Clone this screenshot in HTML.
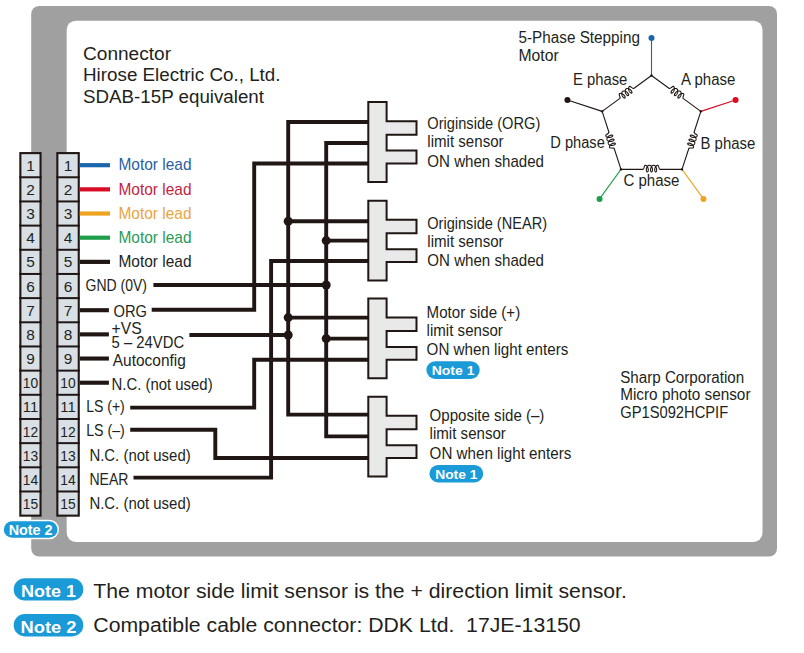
<!DOCTYPE html>
<html><head><meta charset="utf-8"><style>
html,body{margin:0;padding:0;background:#fff;}
body{width:804px;height:653px;overflow:hidden;}
svg{display:block;font-family:"Liberation Sans",sans-serif;}
</style></head><body>
<svg width="804" height="653" viewBox="0 0 804 653">
<rect width="804" height="653" fill="#ffffff"/>
<rect x="31.2" y="6" width="745.8" height="550.5" rx="8" fill="#a0a0a0"/>
<rect x="66.7" y="20.7" width="695.8" height="521.3" rx="9" fill="#ffffff"/>
<text x="83" y="59.8" font-size="17.5" fill="#231f20" textLength="88" lengthAdjust="spacingAndGlyphs">Connector</text>
<text x="83" y="81.0" font-size="17.5" fill="#231f20" textLength="197.5" lengthAdjust="spacingAndGlyphs">Hirose Electric Co., Ltd.</text>
<text x="83" y="102.5" font-size="17.5" fill="#231f20" textLength="181" lengthAdjust="spacingAndGlyphs">SDAB-15P equivalent</text>
<rect x="20.35" y="153.1" width="20.2" height="362.55" fill="#d8dfe5" stroke="#201614" stroke-width="2.1"/>
<line x1="19.3" y1="177.26999999999998" x2="41.6" y2="177.26999999999998" stroke="#201614" stroke-width="2.0"/>
<line x1="19.3" y1="201.44" x2="41.6" y2="201.44" stroke="#201614" stroke-width="2.0"/>
<line x1="19.3" y1="225.61" x2="41.6" y2="225.61" stroke="#201614" stroke-width="2.0"/>
<line x1="19.3" y1="249.78" x2="41.6" y2="249.78" stroke="#201614" stroke-width="2.0"/>
<line x1="19.3" y1="273.95" x2="41.6" y2="273.95" stroke="#201614" stroke-width="2.0"/>
<line x1="19.3" y1="298.12" x2="41.6" y2="298.12" stroke="#201614" stroke-width="2.0"/>
<line x1="19.3" y1="322.28999999999996" x2="41.6" y2="322.28999999999996" stroke="#201614" stroke-width="2.0"/>
<line x1="19.3" y1="346.46000000000004" x2="41.6" y2="346.46000000000004" stroke="#201614" stroke-width="2.0"/>
<line x1="19.3" y1="370.63" x2="41.6" y2="370.63" stroke="#201614" stroke-width="2.0"/>
<line x1="19.3" y1="394.8" x2="41.6" y2="394.8" stroke="#201614" stroke-width="2.0"/>
<line x1="19.3" y1="418.97" x2="41.6" y2="418.97" stroke="#201614" stroke-width="2.0"/>
<line x1="19.3" y1="443.14" x2="41.6" y2="443.14" stroke="#201614" stroke-width="2.0"/>
<line x1="19.3" y1="467.31000000000006" x2="41.6" y2="467.31000000000006" stroke="#201614" stroke-width="2.0"/>
<line x1="19.3" y1="491.48" x2="41.6" y2="491.48" stroke="#201614" stroke-width="2.0"/>
<text x="30.450000000000003" y="170.685" font-size="15.4" fill="#231f20" text-anchor="middle">1</text>
<text x="30.450000000000003" y="194.855" font-size="15.4" fill="#231f20" text-anchor="middle">2</text>
<text x="30.450000000000003" y="219.025" font-size="15.4" fill="#231f20" text-anchor="middle">3</text>
<text x="30.450000000000003" y="243.195" font-size="15.4" fill="#231f20" text-anchor="middle">4</text>
<text x="30.450000000000003" y="267.365" font-size="15.4" fill="#231f20" text-anchor="middle">5</text>
<text x="30.450000000000003" y="291.53499999999997" font-size="15.4" fill="#231f20" text-anchor="middle">6</text>
<text x="30.450000000000003" y="315.70500000000004" font-size="15.4" fill="#231f20" text-anchor="middle">7</text>
<text x="30.450000000000003" y="339.875" font-size="15.4" fill="#231f20" text-anchor="middle">8</text>
<text x="30.450000000000003" y="364.045" font-size="15.4" fill="#231f20" text-anchor="middle">9</text>
<text x="30.450000000000003" y="388.21500000000003" font-size="15.4" fill="#231f20" text-anchor="middle" textLength="15.4" lengthAdjust="spacingAndGlyphs">10</text>
<text x="30.450000000000003" y="412.385" font-size="15.4" fill="#231f20" text-anchor="middle" textLength="15.4" lengthAdjust="spacingAndGlyphs">11</text>
<text x="30.450000000000003" y="436.55500000000006" font-size="15.4" fill="#231f20" text-anchor="middle" textLength="15.4" lengthAdjust="spacingAndGlyphs">12</text>
<text x="30.450000000000003" y="460.725" font-size="15.4" fill="#231f20" text-anchor="middle" textLength="15.4" lengthAdjust="spacingAndGlyphs">13</text>
<text x="30.450000000000003" y="484.895" font-size="15.4" fill="#231f20" text-anchor="middle" textLength="15.4" lengthAdjust="spacingAndGlyphs">14</text>
<text x="30.450000000000003" y="509.06500000000005" font-size="15.4" fill="#231f20" text-anchor="middle" textLength="15.4" lengthAdjust="spacingAndGlyphs">15</text>
<rect x="57.349999999999994" y="153.1" width="21.4" height="362.55" fill="#d8dfe5" stroke="#201614" stroke-width="2.1"/>
<line x1="56.3" y1="177.26999999999998" x2="79.8" y2="177.26999999999998" stroke="#201614" stroke-width="2.0"/>
<line x1="56.3" y1="201.44" x2="79.8" y2="201.44" stroke="#201614" stroke-width="2.0"/>
<line x1="56.3" y1="225.61" x2="79.8" y2="225.61" stroke="#201614" stroke-width="2.0"/>
<line x1="56.3" y1="249.78" x2="79.8" y2="249.78" stroke="#201614" stroke-width="2.0"/>
<line x1="56.3" y1="273.95" x2="79.8" y2="273.95" stroke="#201614" stroke-width="2.0"/>
<line x1="56.3" y1="298.12" x2="79.8" y2="298.12" stroke="#201614" stroke-width="2.0"/>
<line x1="56.3" y1="322.28999999999996" x2="79.8" y2="322.28999999999996" stroke="#201614" stroke-width="2.0"/>
<line x1="56.3" y1="346.46000000000004" x2="79.8" y2="346.46000000000004" stroke="#201614" stroke-width="2.0"/>
<line x1="56.3" y1="370.63" x2="79.8" y2="370.63" stroke="#201614" stroke-width="2.0"/>
<line x1="56.3" y1="394.8" x2="79.8" y2="394.8" stroke="#201614" stroke-width="2.0"/>
<line x1="56.3" y1="418.97" x2="79.8" y2="418.97" stroke="#201614" stroke-width="2.0"/>
<line x1="56.3" y1="443.14" x2="79.8" y2="443.14" stroke="#201614" stroke-width="2.0"/>
<line x1="56.3" y1="467.31000000000006" x2="79.8" y2="467.31000000000006" stroke="#201614" stroke-width="2.0"/>
<line x1="56.3" y1="491.48" x2="79.8" y2="491.48" stroke="#201614" stroke-width="2.0"/>
<text x="68.05" y="170.685" font-size="15.4" fill="#231f20" text-anchor="middle">1</text>
<text x="68.05" y="194.855" font-size="15.4" fill="#231f20" text-anchor="middle">2</text>
<text x="68.05" y="219.025" font-size="15.4" fill="#231f20" text-anchor="middle">3</text>
<text x="68.05" y="243.195" font-size="15.4" fill="#231f20" text-anchor="middle">4</text>
<text x="68.05" y="267.365" font-size="15.4" fill="#231f20" text-anchor="middle">5</text>
<text x="68.05" y="291.53499999999997" font-size="15.4" fill="#231f20" text-anchor="middle">6</text>
<text x="68.05" y="315.70500000000004" font-size="15.4" fill="#231f20" text-anchor="middle">7</text>
<text x="68.05" y="339.875" font-size="15.4" fill="#231f20" text-anchor="middle">8</text>
<text x="68.05" y="364.045" font-size="15.4" fill="#231f20" text-anchor="middle">9</text>
<text x="68.05" y="388.21500000000003" font-size="15.4" fill="#231f20" text-anchor="middle" textLength="15.4" lengthAdjust="spacingAndGlyphs">10</text>
<text x="68.05" y="412.385" font-size="15.4" fill="#231f20" text-anchor="middle" textLength="15.4" lengthAdjust="spacingAndGlyphs">11</text>
<text x="68.05" y="436.55500000000006" font-size="15.4" fill="#231f20" text-anchor="middle" textLength="15.4" lengthAdjust="spacingAndGlyphs">12</text>
<text x="68.05" y="460.725" font-size="15.4" fill="#231f20" text-anchor="middle" textLength="15.4" lengthAdjust="spacingAndGlyphs">13</text>
<text x="68.05" y="484.895" font-size="15.4" fill="#231f20" text-anchor="middle" textLength="15.4" lengthAdjust="spacingAndGlyphs">14</text>
<text x="68.05" y="509.06500000000005" font-size="15.4" fill="#231f20" text-anchor="middle" textLength="15.4" lengthAdjust="spacingAndGlyphs">15</text>
<line x1="79.8" y1="165.185" x2="110" y2="165.185" stroke="#1a66ac" stroke-width="4.2"/>
<text x="118.5" y="170.485" font-size="15.9" fill="#2b609f" textLength="73" lengthAdjust="spacingAndGlyphs">Motor lead</text>
<line x1="79.8" y1="189.355" x2="110" y2="189.355" stroke="#d90b25" stroke-width="4.2"/>
<text x="118.5" y="194.655" font-size="15.9" fill="#c41f3e" textLength="73" lengthAdjust="spacingAndGlyphs">Motor lead</text>
<line x1="79.8" y1="213.525" x2="110" y2="213.525" stroke="#eea321" stroke-width="4.2"/>
<text x="118.5" y="218.82500000000002" font-size="15.9" fill="#eaa43e" textLength="73" lengthAdjust="spacingAndGlyphs">Motor lead</text>
<line x1="79.8" y1="237.695" x2="110" y2="237.695" stroke="#1f9e4a" stroke-width="4.2"/>
<text x="118.5" y="242.995" font-size="15.9" fill="#2b9a57" textLength="73" lengthAdjust="spacingAndGlyphs">Motor lead</text>
<line x1="79.8" y1="261.865" x2="110" y2="261.865" stroke="#201614" stroke-width="4.2"/>
<text x="118.5" y="267.165" font-size="15.9" fill="#231f20" textLength="73" lengthAdjust="spacingAndGlyphs">Motor lead</text>
<text x="85.5" y="291.335" font-size="15.9" fill="#231f20" textLength="61.5" lengthAdjust="spacingAndGlyphs">GND (0V)</text>
<line x1="79.8" y1="310.20500000000004" x2="108.9" y2="310.20500000000004" stroke="#201614" stroke-width="4.1"/>
<text x="113.5" y="317.20500000000004" font-size="15.9" fill="#231f20" textLength="33.5" lengthAdjust="spacingAndGlyphs">ORG</text>
<line x1="79.8" y1="334.375" x2="108.9" y2="334.375" stroke="#201614" stroke-width="4.1"/>
<text x="111.6" y="333.575" font-size="15.9" fill="#231f20" textLength="30" lengthAdjust="spacingAndGlyphs">+VS</text>
<text x="111.6" y="347.975" font-size="15.9" fill="#231f20" textLength="72.5" lengthAdjust="spacingAndGlyphs">5 – 24VDC</text>
<line x1="79.8" y1="358.545" x2="108.9" y2="358.545" stroke="#201614" stroke-width="4.1"/>
<text x="112.8" y="366.14500000000004" font-size="15.9" fill="#231f20" textLength="73" lengthAdjust="spacingAndGlyphs">Autoconfig</text>
<line x1="79.8" y1="382.71500000000003" x2="108.9" y2="382.71500000000003" stroke="#201614" stroke-width="4.1"/>
<text x="111.6" y="390.31500000000005" font-size="15.9" fill="#231f20" textLength="101" lengthAdjust="spacingAndGlyphs">N.C. (not used)</text>
<text x="86.2" y="412.185" font-size="15.9" fill="#231f20" textLength="38.6" lengthAdjust="spacingAndGlyphs">LS (+)</text>
<text x="86.2" y="436.3550000000001" font-size="15.9" fill="#231f20" textLength="38.6" lengthAdjust="spacingAndGlyphs">LS (–)</text>
<text x="89.4" y="460.52500000000003" font-size="15.9" fill="#231f20" textLength="101.3" lengthAdjust="spacingAndGlyphs">N.C. (not used)</text>
<text x="89.4" y="484.695" font-size="15.9" fill="#231f20" textLength="39" lengthAdjust="spacingAndGlyphs">NEAR</text>
<text x="89.4" y="508.86500000000007" font-size="15.9" fill="#231f20" textLength="101.3" lengthAdjust="spacingAndGlyphs">N.C. (not used)</text>
<polyline points="368.5,122 288.2,122 288.2,414.6 368.5,414.6" fill="none" stroke="#201614" stroke-width="3.9" stroke-linejoin="miter" stroke-linecap="butt"/>
<line x1="288.2" y1="221.2" x2="368.5" y2="221.2" stroke="#201614" stroke-width="3.9"/>
<circle cx="288.2" cy="221.2" r="4.5" fill="#201614"/>
<line x1="288.2" y1="317.6" x2="368.5" y2="317.6" stroke="#201614" stroke-width="3.9"/>
<circle cx="288.2" cy="317.6" r="4.5" fill="#201614"/>
<line x1="189.4" y1="335" x2="288.2" y2="335" stroke="#201614" stroke-width="3.9"/>
<circle cx="288.2" cy="335" r="4.5" fill="#201614"/>
<polyline points="368.5,143 326.2,143 326.2,436.4 368.5,436.4" fill="none" stroke="#201614" stroke-width="3.9" stroke-linejoin="miter" stroke-linecap="butt"/>
<line x1="326.2" y1="240.6" x2="368.5" y2="240.6" stroke="#201614" stroke-width="3.9"/>
<circle cx="326.2" cy="240.6" r="4.5" fill="#201614"/>
<line x1="326.2" y1="338.6" x2="368.5" y2="338.6" stroke="#201614" stroke-width="3.9"/>
<circle cx="326.2" cy="338.6" r="4.5" fill="#201614"/>
<line x1="153.4" y1="285" x2="326.2" y2="285" stroke="#201614" stroke-width="3.9"/>
<circle cx="326.2" cy="285" r="4.5" fill="#201614"/>
<polyline points="368.5,163.5 254.2,163.5 254.2,309.8 151.7,309.8" fill="none" stroke="#201614" stroke-width="3.9" stroke-linejoin="miter" stroke-linecap="butt"/>
<polyline points="368.5,261 271.1,261 271.1,477.6 133.5,477.6" fill="none" stroke="#201614" stroke-width="3.9" stroke-linejoin="miter" stroke-linecap="butt"/>
<polyline points="368.5,359.7 254.2,359.7 254.2,407.6 130.2,407.6" fill="none" stroke="#201614" stroke-width="3.9" stroke-linejoin="miter" stroke-linecap="butt"/>
<polyline points="368.5,458 215.3,458 215.3,429.8 130.2,429.8" fill="none" stroke="#201614" stroke-width="3.9" stroke-linejoin="miter" stroke-linecap="butt"/>
<polygon points="368.3,102.1 386.6,102.1 386.6,121.19999999999999 416.5,121.19999999999999 416.5,134.7 386.6,134.7 386.6,150.6 416.5,150.6 416.5,163.5 386.6,163.5 386.6,182.0 368.3,182.0" fill="#e9e9e9" stroke="#201614" stroke-width="2" transform="translate(0,0)"/>
<polygon points="368.3,200.7 386.6,200.7 386.6,219.79999999999998 416.5,219.79999999999998 416.5,233.29999999999998 386.6,233.29999999999998 386.6,249.2 416.5,249.2 416.5,262.09999999999997 386.6,262.09999999999997 386.6,280.6 368.3,280.6" fill="#e9e9e9" stroke="#201614" stroke-width="2" transform="translate(0,0)"/>
<polygon points="368.3,298.4 386.6,298.4 386.6,317.5 416.5,317.5 416.5,331.0 386.6,331.0 386.6,346.9 416.5,346.9 416.5,359.79999999999995 386.6,359.79999999999995 386.6,378.29999999999995 368.3,378.29999999999995" fill="#e9e9e9" stroke="#201614" stroke-width="2" transform="translate(0,0)"/>
<polygon points="368.3,396.7 386.6,396.7 386.6,415.8 416.5,415.8 416.5,429.3 386.6,429.3 386.6,445.2 416.5,445.2 416.5,458.09999999999997 386.6,458.09999999999997 386.6,476.6 368.3,476.6" fill="#e9e9e9" stroke="#201614" stroke-width="2" transform="translate(0,0)"/>
<text x="427.3" y="129.4" font-size="16.2" fill="#231f20" textLength="113" lengthAdjust="spacingAndGlyphs">Originside (ORG)</text>
<text x="427.3" y="146.5" font-size="16.2" fill="#231f20" textLength="76.3" lengthAdjust="spacingAndGlyphs">limit sensor</text>
<text x="427.3" y="167.3" font-size="16.2" fill="#231f20" textLength="116.7" lengthAdjust="spacingAndGlyphs">ON when shaded</text>
<text x="427.3" y="228.8" font-size="16.2" fill="#231f20" textLength="119.7" lengthAdjust="spacingAndGlyphs">Originside (NEAR)</text>
<text x="427.3" y="246.6" font-size="16.2" fill="#231f20" textLength="76.3" lengthAdjust="spacingAndGlyphs">limit sensor</text>
<text x="427.3" y="266.2" font-size="16.2" fill="#231f20" textLength="116.7" lengthAdjust="spacingAndGlyphs">ON when shaded</text>
<text x="426.6" y="317.8" font-size="16.2" fill="#231f20" textLength="93.6" lengthAdjust="spacingAndGlyphs">Motor side (+)</text>
<text x="426.6" y="335.7" font-size="16.2" fill="#231f20" textLength="76.3" lengthAdjust="spacingAndGlyphs">limit sensor</text>
<text x="426.6" y="355.3" font-size="16.2" fill="#231f20" textLength="141.7" lengthAdjust="spacingAndGlyphs">ON when light enters</text>
<text x="429.6" y="421.3" font-size="16.2" fill="#231f20" textLength="114.8" lengthAdjust="spacingAndGlyphs">Opposite side (–)</text>
<text x="429.6" y="439.2" font-size="16.2" fill="#231f20" textLength="76.3" lengthAdjust="spacingAndGlyphs">limit sensor</text>
<text x="429.6" y="459.4" font-size="16.2" fill="#231f20" textLength="141.7" lengthAdjust="spacingAndGlyphs">ON when light enters</text>
<rect x="426.4" y="361.2" width="53.30000000000001" height="17.69999999999999" rx="8.849999999999994" fill="#1a9ad7"/>
<text x="453.04999999999995" y="374.7" font-size="13.6" fill="#ffffff" font-weight="bold" text-anchor="middle" textLength="42.8" lengthAdjust="spacingAndGlyphs">Note 1</text>
<rect x="429.4" y="465.0" width="53.80000000000001" height="17.399999999999977" rx="8.699999999999989" fill="#1a9ad7"/>
<text x="456.29999999999995" y="478.7" font-size="13.6" fill="#ffffff" font-weight="bold" text-anchor="middle" textLength="42.3" lengthAdjust="spacingAndGlyphs">Note 1</text>
<rect x="2.3" y="519.7" width="56.7" height="19.59999999999991" rx="9.799999999999955" fill="#ffffff"/>
<rect x="3.8" y="521.2" width="53.7" height="16.59999999999991" rx="8.299999999999955" fill="#1a9ad7"/>
<text x="30.65" y="534.6" font-size="14.5" fill="#ffffff" font-weight="bold" text-anchor="middle" textLength="44" lengthAdjust="spacingAndGlyphs">Note 2</text>
<text x="620.2" y="382.7" font-size="16" fill="#231f20" textLength="124" lengthAdjust="spacingAndGlyphs">Sharp Corporation</text>
<text x="620.2" y="400.3" font-size="16" fill="#231f20" textLength="130.3" lengthAdjust="spacingAndGlyphs">Micro photo sensor</text>
<text x="620.2" y="418.0" font-size="16" fill="#231f20" textLength="108" lengthAdjust="spacingAndGlyphs">GP1S092HCPIF</text>
<text x="518.5" y="43.1" font-size="15.6" fill="#231f20" textLength="121.5" lengthAdjust="spacingAndGlyphs">5-Phase Stepping</text>
<text x="518.5" y="60.5" font-size="15.6" fill="#231f20" textLength="40.2" lengthAdjust="spacingAndGlyphs">Motor</text>
<line x1="651.50" y1="75.50" x2="651.50" y2="38.00" stroke="#1a66ac" stroke-width="1.1"/>
<circle cx="651.50" cy="38.00" r="3" fill="#1a66ac"/>
<circle cx="651.50" cy="75.50" r="1.2" fill="#201614"/>
<line x1="700.86" y1="111.36" x2="735.57" y2="100.08" stroke="#d90b25" stroke-width="1.1"/>
<circle cx="735.57" cy="100.08" r="3" fill="#d90b25"/>
<circle cx="700.86" cy="111.36" r="1.2" fill="#201614"/>
<line x1="682.01" y1="169.39" x2="703.46" y2="198.92" stroke="#eea321" stroke-width="1.1"/>
<circle cx="703.46" cy="198.92" r="3" fill="#eea321"/>
<circle cx="682.01" cy="169.39" r="1.2" fill="#201614"/>
<line x1="620.99" y1="169.39" x2="599.54" y2="198.92" stroke="#1f9e4a" stroke-width="1.1"/>
<circle cx="599.54" cy="198.92" r="3" fill="#1f9e4a"/>
<circle cx="620.99" cy="169.39" r="1.2" fill="#201614"/>
<line x1="602.14" y1="111.36" x2="567.43" y2="100.08" stroke="#201614" stroke-width="1.1"/>
<circle cx="567.43" cy="100.08" r="3" fill="#201614"/>
<circle cx="602.14" cy="111.36" r="1.2" fill="#201614"/>
<path d="M0.00,0.00 L22.01,0.00 L22.28,-0.16 L22.56,-0.60 L22.83,-1.27 L23.11,-2.05 L23.38,-2.83 L23.66,-3.50 L23.93,-3.94 L24.21,-4.10 L24.21,-4.10 L24.47,-4.08 L24.74,-4.03 L25.00,-3.94 L25.26,-3.81 L25.51,-3.65 L25.74,-3.46 L25.97,-3.24 L26.18,-2.99 L26.37,-2.72 L26.55,-2.43 L26.71,-2.11 L26.85,-1.79 L26.97,-1.45 L27.08,-1.10 L27.16,-0.75 L27.22,-0.40 L27.25,-0.05 L27.27,0.29 L27.27,0.61 L27.25,0.92 L27.21,1.22 L27.16,1.49 L27.09,1.74 L27.00,1.96 L26.91,2.15 L26.80,2.31 L26.68,2.44 L26.56,2.53 L26.43,2.58 L26.31,2.60 L26.18,2.58 L26.05,2.53 L25.93,2.44 L25.81,2.31 L25.71,2.15 L25.61,1.96 L25.52,1.74 L25.45,1.49 L25.40,1.22 L25.36,0.93 L25.34,0.61 L25.34,0.29 L25.36,-0.05 L25.40,-0.40 L25.46,-0.75 L25.54,-1.10 L25.64,-1.45 L25.76,-1.79 L25.90,-2.11 L26.06,-2.43 L26.24,-2.72 L26.43,-2.99 L26.64,-3.24 L26.87,-3.46 L27.11,-3.65 L27.35,-3.81 L27.61,-3.94 L27.87,-4.03 L28.14,-4.08 L28.41,-4.10 L28.67,-4.08 L28.94,-4.03 L29.20,-3.94 L29.46,-3.81 L29.71,-3.65 L29.94,-3.46 L30.17,-3.24 L30.38,-2.99 L30.57,-2.72 L30.75,-2.42 L30.91,-2.11 L31.05,-1.79 L31.17,-1.45 L31.28,-1.10 L31.36,-0.75 L31.42,-0.40 L31.45,-0.05 L31.47,0.29 L31.47,0.61 L31.45,0.92 L31.41,1.22 L31.36,1.49 L31.29,1.74 L31.20,1.96 L31.11,2.15 L31.00,2.31 L30.88,2.44 L30.76,2.53 L30.63,2.58 L30.51,2.60 L30.38,2.58 L30.25,2.53 L30.13,2.44 L30.01,2.31 L29.91,2.15 L29.81,1.96 L29.72,1.74 L29.65,1.49 L29.60,1.22 L29.56,0.92 L29.54,0.61 L29.54,0.29 L29.56,-0.05 L29.60,-0.40 L29.66,-0.75 L29.74,-1.10 L29.84,-1.45 L29.96,-1.79 L30.10,-2.11 L30.26,-2.42 L30.44,-2.72 L30.63,-2.99 L30.84,-3.24 L31.07,-3.46 L31.31,-3.65 L31.55,-3.81 L31.81,-3.94 L32.07,-4.03 L32.34,-4.08 L32.61,-4.10 L32.87,-4.08 L33.14,-4.03 L33.40,-3.94 L33.66,-3.81 L33.91,-3.65 L34.14,-3.46 L34.37,-3.24 L34.58,-2.99 L34.77,-2.72 L34.95,-2.43 L35.11,-2.11 L35.25,-1.79 L35.37,-1.45 L35.48,-1.10 L35.56,-0.75 L35.62,-0.40 L35.65,-0.05 L35.67,0.29 L35.67,0.61 L35.65,0.93 L35.61,1.22 L35.56,1.49 L35.49,1.74 L35.40,1.96 L35.31,2.15 L35.20,2.31 L35.08,2.44 L34.96,2.53 L34.83,2.58 L34.71,2.60 L34.58,2.58 L34.45,2.53 L34.33,2.44 L34.21,2.31 L34.11,2.15 L34.01,1.96 L33.92,1.74 L33.85,1.49 L33.80,1.22 L33.76,0.93 L33.74,0.61 L33.74,0.29 L33.76,-0.05 L33.80,-0.40 L33.86,-0.75 L33.94,-1.10 L34.04,-1.45 L34.16,-1.79 L34.30,-2.11 L34.46,-2.43 L34.64,-2.72 L34.83,-2.99 L35.04,-3.24 L35.27,-3.46 L35.51,-3.65 L35.75,-3.81 L36.01,-3.94 L36.27,-4.03 L36.54,-4.08 L36.81,-4.10 L37.08,-3.94 L37.36,-3.50 L37.63,-2.83 L37.91,-2.05 L38.18,-1.27 L38.46,-0.60 L38.73,-0.16 L39.01,-0.00 L61.01,0.00" fill="none" stroke="#201614" stroke-width="1.1" stroke-linejoin="round" transform="translate(651.50,75.50) rotate(36.00)"/>
<path d="M0.00,0.00 L22.01,0.00 L22.28,-0.16 L22.56,-0.60 L22.83,-1.27 L23.11,-2.05 L23.38,-2.83 L23.66,-3.50 L23.93,-3.94 L24.21,-4.10 L24.21,-4.10 L24.47,-4.08 L24.74,-4.03 L25.00,-3.94 L25.26,-3.81 L25.51,-3.65 L25.74,-3.46 L25.97,-3.24 L26.18,-2.99 L26.37,-2.72 L26.55,-2.43 L26.71,-2.11 L26.85,-1.79 L26.97,-1.45 L27.08,-1.10 L27.16,-0.75 L27.22,-0.40 L27.25,-0.05 L27.27,0.29 L27.27,0.61 L27.25,0.92 L27.21,1.22 L27.16,1.49 L27.09,1.74 L27.00,1.96 L26.91,2.15 L26.80,2.31 L26.68,2.44 L26.56,2.53 L26.43,2.58 L26.31,2.60 L26.18,2.58 L26.05,2.53 L25.93,2.44 L25.81,2.31 L25.71,2.15 L25.61,1.96 L25.52,1.74 L25.45,1.49 L25.40,1.22 L25.36,0.93 L25.34,0.61 L25.34,0.29 L25.36,-0.05 L25.40,-0.40 L25.46,-0.75 L25.54,-1.10 L25.64,-1.45 L25.76,-1.79 L25.90,-2.11 L26.06,-2.43 L26.24,-2.72 L26.43,-2.99 L26.64,-3.24 L26.87,-3.46 L27.11,-3.65 L27.35,-3.81 L27.61,-3.94 L27.87,-4.03 L28.14,-4.08 L28.41,-4.10 L28.67,-4.08 L28.94,-4.03 L29.20,-3.94 L29.46,-3.81 L29.71,-3.65 L29.94,-3.46 L30.17,-3.24 L30.38,-2.99 L30.57,-2.72 L30.75,-2.42 L30.91,-2.11 L31.05,-1.79 L31.17,-1.45 L31.28,-1.10 L31.36,-0.75 L31.42,-0.40 L31.45,-0.05 L31.47,0.29 L31.47,0.61 L31.45,0.92 L31.41,1.22 L31.36,1.49 L31.29,1.74 L31.20,1.96 L31.11,2.15 L31.00,2.31 L30.88,2.44 L30.76,2.53 L30.63,2.58 L30.51,2.60 L30.38,2.58 L30.25,2.53 L30.13,2.44 L30.01,2.31 L29.91,2.15 L29.81,1.96 L29.72,1.74 L29.65,1.49 L29.60,1.22 L29.56,0.92 L29.54,0.61 L29.54,0.29 L29.56,-0.05 L29.60,-0.40 L29.66,-0.75 L29.74,-1.10 L29.84,-1.45 L29.96,-1.79 L30.10,-2.11 L30.26,-2.42 L30.44,-2.72 L30.63,-2.99 L30.84,-3.24 L31.07,-3.46 L31.31,-3.65 L31.55,-3.81 L31.81,-3.94 L32.07,-4.03 L32.34,-4.08 L32.61,-4.10 L32.87,-4.08 L33.14,-4.03 L33.40,-3.94 L33.66,-3.81 L33.91,-3.65 L34.14,-3.46 L34.37,-3.24 L34.58,-2.99 L34.77,-2.72 L34.95,-2.43 L35.11,-2.11 L35.25,-1.79 L35.37,-1.45 L35.48,-1.10 L35.56,-0.75 L35.62,-0.40 L35.65,-0.05 L35.67,0.29 L35.67,0.61 L35.65,0.93 L35.61,1.22 L35.56,1.49 L35.49,1.74 L35.40,1.96 L35.31,2.15 L35.20,2.31 L35.08,2.44 L34.96,2.53 L34.83,2.58 L34.71,2.60 L34.58,2.58 L34.45,2.53 L34.33,2.44 L34.21,2.31 L34.11,2.15 L34.01,1.96 L33.92,1.74 L33.85,1.49 L33.80,1.22 L33.76,0.93 L33.74,0.61 L33.74,0.29 L33.76,-0.05 L33.80,-0.40 L33.86,-0.75 L33.94,-1.10 L34.04,-1.45 L34.16,-1.79 L34.30,-2.11 L34.46,-2.43 L34.64,-2.72 L34.83,-2.99 L35.04,-3.24 L35.27,-3.46 L35.51,-3.65 L35.75,-3.81 L36.01,-3.94 L36.27,-4.03 L36.54,-4.08 L36.81,-4.10 L37.08,-3.94 L37.36,-3.50 L37.63,-2.83 L37.91,-2.05 L38.18,-1.27 L38.46,-0.60 L38.73,-0.16 L39.01,-0.00 L61.01,0.00" fill="none" stroke="#201614" stroke-width="1.1" stroke-linejoin="round" transform="translate(700.86,111.36) rotate(108.00)"/>
<path d="M0.00,0.00 L22.01,0.00 L22.28,0.16 L22.56,0.60 L22.83,1.27 L23.11,2.05 L23.38,2.83 L23.66,3.50 L23.93,3.94 L24.21,4.10 L24.21,4.10 L24.47,4.08 L24.74,4.03 L25.00,3.94 L25.26,3.81 L25.51,3.65 L25.74,3.46 L25.97,3.24 L26.18,2.99 L26.37,2.72 L26.55,2.43 L26.71,2.11 L26.85,1.79 L26.97,1.45 L27.08,1.10 L27.16,0.75 L27.22,0.40 L27.25,0.05 L27.27,-0.29 L27.27,-0.61 L27.25,-0.92 L27.21,-1.22 L27.16,-1.49 L27.09,-1.74 L27.00,-1.96 L26.91,-2.15 L26.80,-2.31 L26.68,-2.44 L26.56,-2.53 L26.43,-2.58 L26.31,-2.60 L26.18,-2.58 L26.05,-2.53 L25.93,-2.44 L25.81,-2.31 L25.71,-2.15 L25.61,-1.96 L25.52,-1.74 L25.45,-1.49 L25.40,-1.22 L25.36,-0.93 L25.34,-0.61 L25.34,-0.29 L25.36,0.05 L25.40,0.40 L25.46,0.75 L25.54,1.10 L25.64,1.45 L25.76,1.79 L25.90,2.11 L26.06,2.43 L26.24,2.72 L26.43,2.99 L26.64,3.24 L26.87,3.46 L27.11,3.65 L27.35,3.81 L27.61,3.94 L27.87,4.03 L28.14,4.08 L28.41,4.10 L28.67,4.08 L28.94,4.03 L29.20,3.94 L29.46,3.81 L29.71,3.65 L29.94,3.46 L30.17,3.24 L30.38,2.99 L30.57,2.72 L30.75,2.42 L30.91,2.11 L31.05,1.79 L31.17,1.45 L31.28,1.10 L31.36,0.75 L31.42,0.40 L31.45,0.05 L31.47,-0.29 L31.47,-0.61 L31.45,-0.92 L31.41,-1.22 L31.36,-1.49 L31.29,-1.74 L31.20,-1.96 L31.11,-2.15 L31.00,-2.31 L30.88,-2.44 L30.76,-2.53 L30.63,-2.58 L30.51,-2.60 L30.38,-2.58 L30.25,-2.53 L30.13,-2.44 L30.01,-2.31 L29.91,-2.15 L29.81,-1.96 L29.72,-1.74 L29.65,-1.49 L29.60,-1.22 L29.56,-0.92 L29.54,-0.61 L29.54,-0.29 L29.56,0.05 L29.60,0.40 L29.66,0.75 L29.74,1.10 L29.84,1.45 L29.96,1.79 L30.10,2.11 L30.26,2.42 L30.44,2.72 L30.63,2.99 L30.84,3.24 L31.07,3.46 L31.31,3.65 L31.55,3.81 L31.81,3.94 L32.07,4.03 L32.34,4.08 L32.61,4.10 L32.87,4.08 L33.14,4.03 L33.40,3.94 L33.66,3.81 L33.91,3.65 L34.14,3.46 L34.37,3.24 L34.58,2.99 L34.77,2.72 L34.95,2.43 L35.11,2.11 L35.25,1.79 L35.37,1.45 L35.48,1.10 L35.56,0.75 L35.62,0.40 L35.65,0.05 L35.67,-0.29 L35.67,-0.61 L35.65,-0.93 L35.61,-1.22 L35.56,-1.49 L35.49,-1.74 L35.40,-1.96 L35.31,-2.15 L35.20,-2.31 L35.08,-2.44 L34.96,-2.53 L34.83,-2.58 L34.71,-2.60 L34.58,-2.58 L34.45,-2.53 L34.33,-2.44 L34.21,-2.31 L34.11,-2.15 L34.01,-1.96 L33.92,-1.74 L33.85,-1.49 L33.80,-1.22 L33.76,-0.93 L33.74,-0.61 L33.74,-0.29 L33.76,0.05 L33.80,0.40 L33.86,0.75 L33.94,1.10 L34.04,1.45 L34.16,1.79 L34.30,2.11 L34.46,2.43 L34.64,2.72 L34.83,2.99 L35.04,3.24 L35.27,3.46 L35.51,3.65 L35.75,3.81 L36.01,3.94 L36.27,4.03 L36.54,4.08 L36.81,4.10 L37.08,3.94 L37.36,3.50 L37.63,2.83 L37.91,2.05 L38.18,1.27 L38.46,0.60 L38.73,0.16 L39.01,0.00 L61.01,0.00" fill="none" stroke="#201614" stroke-width="1.1" stroke-linejoin="round" transform="translate(682.01,169.39) rotate(180.00)"/>
<path d="M0.00,0.00 L22.01,0.00 L22.28,-0.16 L22.56,-0.60 L22.83,-1.27 L23.11,-2.05 L23.38,-2.83 L23.66,-3.50 L23.93,-3.94 L24.21,-4.10 L24.21,-4.10 L24.47,-4.08 L24.74,-4.03 L25.00,-3.94 L25.26,-3.81 L25.51,-3.65 L25.74,-3.46 L25.97,-3.24 L26.18,-2.99 L26.37,-2.72 L26.55,-2.43 L26.71,-2.11 L26.85,-1.79 L26.97,-1.45 L27.08,-1.10 L27.16,-0.75 L27.22,-0.40 L27.25,-0.05 L27.27,0.29 L27.27,0.61 L27.25,0.92 L27.21,1.22 L27.16,1.49 L27.09,1.74 L27.00,1.96 L26.91,2.15 L26.80,2.31 L26.68,2.44 L26.56,2.53 L26.43,2.58 L26.31,2.60 L26.18,2.58 L26.05,2.53 L25.93,2.44 L25.81,2.31 L25.71,2.15 L25.61,1.96 L25.52,1.74 L25.45,1.49 L25.40,1.22 L25.36,0.93 L25.34,0.61 L25.34,0.29 L25.36,-0.05 L25.40,-0.40 L25.46,-0.75 L25.54,-1.10 L25.64,-1.45 L25.76,-1.79 L25.90,-2.11 L26.06,-2.43 L26.24,-2.72 L26.43,-2.99 L26.64,-3.24 L26.87,-3.46 L27.11,-3.65 L27.35,-3.81 L27.61,-3.94 L27.87,-4.03 L28.14,-4.08 L28.41,-4.10 L28.67,-4.08 L28.94,-4.03 L29.20,-3.94 L29.46,-3.81 L29.71,-3.65 L29.94,-3.46 L30.17,-3.24 L30.38,-2.99 L30.57,-2.72 L30.75,-2.42 L30.91,-2.11 L31.05,-1.79 L31.17,-1.45 L31.28,-1.10 L31.36,-0.75 L31.42,-0.40 L31.45,-0.05 L31.47,0.29 L31.47,0.61 L31.45,0.92 L31.41,1.22 L31.36,1.49 L31.29,1.74 L31.20,1.96 L31.11,2.15 L31.00,2.31 L30.88,2.44 L30.76,2.53 L30.63,2.58 L30.51,2.60 L30.38,2.58 L30.25,2.53 L30.13,2.44 L30.01,2.31 L29.91,2.15 L29.81,1.96 L29.72,1.74 L29.65,1.49 L29.60,1.22 L29.56,0.92 L29.54,0.61 L29.54,0.29 L29.56,-0.05 L29.60,-0.40 L29.66,-0.75 L29.74,-1.10 L29.84,-1.45 L29.96,-1.79 L30.10,-2.11 L30.26,-2.42 L30.44,-2.72 L30.63,-2.99 L30.84,-3.24 L31.07,-3.46 L31.31,-3.65 L31.55,-3.81 L31.81,-3.94 L32.07,-4.03 L32.34,-4.08 L32.61,-4.10 L32.87,-4.08 L33.14,-4.03 L33.40,-3.94 L33.66,-3.81 L33.91,-3.65 L34.14,-3.46 L34.37,-3.24 L34.58,-2.99 L34.77,-2.72 L34.95,-2.43 L35.11,-2.11 L35.25,-1.79 L35.37,-1.45 L35.48,-1.10 L35.56,-0.75 L35.62,-0.40 L35.65,-0.05 L35.67,0.29 L35.67,0.61 L35.65,0.93 L35.61,1.22 L35.56,1.49 L35.49,1.74 L35.40,1.96 L35.31,2.15 L35.20,2.31 L35.08,2.44 L34.96,2.53 L34.83,2.58 L34.71,2.60 L34.58,2.58 L34.45,2.53 L34.33,2.44 L34.21,2.31 L34.11,2.15 L34.01,1.96 L33.92,1.74 L33.85,1.49 L33.80,1.22 L33.76,0.93 L33.74,0.61 L33.74,0.29 L33.76,-0.05 L33.80,-0.40 L33.86,-0.75 L33.94,-1.10 L34.04,-1.45 L34.16,-1.79 L34.30,-2.11 L34.46,-2.43 L34.64,-2.72 L34.83,-2.99 L35.04,-3.24 L35.27,-3.46 L35.51,-3.65 L35.75,-3.81 L36.01,-3.94 L36.27,-4.03 L36.54,-4.08 L36.81,-4.10 L37.08,-3.94 L37.36,-3.50 L37.63,-2.83 L37.91,-2.05 L38.18,-1.27 L38.46,-0.60 L38.73,-0.16 L39.01,-0.00 L61.01,0.00" fill="none" stroke="#201614" stroke-width="1.1" stroke-linejoin="round" transform="translate(620.99,169.39) rotate(-108.00)"/>
<path d="M0.00,0.00 L22.01,0.00 L22.28,-0.16 L22.56,-0.60 L22.83,-1.27 L23.11,-2.05 L23.38,-2.83 L23.66,-3.50 L23.93,-3.94 L24.21,-4.10 L24.21,-4.10 L24.47,-4.08 L24.74,-4.03 L25.00,-3.94 L25.26,-3.81 L25.51,-3.65 L25.74,-3.46 L25.97,-3.24 L26.18,-2.99 L26.37,-2.72 L26.55,-2.43 L26.71,-2.11 L26.85,-1.79 L26.97,-1.45 L27.08,-1.10 L27.16,-0.75 L27.22,-0.40 L27.25,-0.05 L27.27,0.29 L27.27,0.61 L27.25,0.92 L27.21,1.22 L27.16,1.49 L27.09,1.74 L27.00,1.96 L26.91,2.15 L26.80,2.31 L26.68,2.44 L26.56,2.53 L26.43,2.58 L26.31,2.60 L26.18,2.58 L26.05,2.53 L25.93,2.44 L25.81,2.31 L25.71,2.15 L25.61,1.96 L25.52,1.74 L25.45,1.49 L25.40,1.22 L25.36,0.93 L25.34,0.61 L25.34,0.29 L25.36,-0.05 L25.40,-0.40 L25.46,-0.75 L25.54,-1.10 L25.64,-1.45 L25.76,-1.79 L25.90,-2.11 L26.06,-2.43 L26.24,-2.72 L26.43,-2.99 L26.64,-3.24 L26.87,-3.46 L27.11,-3.65 L27.35,-3.81 L27.61,-3.94 L27.87,-4.03 L28.14,-4.08 L28.41,-4.10 L28.67,-4.08 L28.94,-4.03 L29.20,-3.94 L29.46,-3.81 L29.71,-3.65 L29.94,-3.46 L30.17,-3.24 L30.38,-2.99 L30.57,-2.72 L30.75,-2.42 L30.91,-2.11 L31.05,-1.79 L31.17,-1.45 L31.28,-1.10 L31.36,-0.75 L31.42,-0.40 L31.45,-0.05 L31.47,0.29 L31.47,0.61 L31.45,0.92 L31.41,1.22 L31.36,1.49 L31.29,1.74 L31.20,1.96 L31.11,2.15 L31.00,2.31 L30.88,2.44 L30.76,2.53 L30.63,2.58 L30.51,2.60 L30.38,2.58 L30.25,2.53 L30.13,2.44 L30.01,2.31 L29.91,2.15 L29.81,1.96 L29.72,1.74 L29.65,1.49 L29.60,1.22 L29.56,0.92 L29.54,0.61 L29.54,0.29 L29.56,-0.05 L29.60,-0.40 L29.66,-0.75 L29.74,-1.10 L29.84,-1.45 L29.96,-1.79 L30.10,-2.11 L30.26,-2.42 L30.44,-2.72 L30.63,-2.99 L30.84,-3.24 L31.07,-3.46 L31.31,-3.65 L31.55,-3.81 L31.81,-3.94 L32.07,-4.03 L32.34,-4.08 L32.61,-4.10 L32.87,-4.08 L33.14,-4.03 L33.40,-3.94 L33.66,-3.81 L33.91,-3.65 L34.14,-3.46 L34.37,-3.24 L34.58,-2.99 L34.77,-2.72 L34.95,-2.43 L35.11,-2.11 L35.25,-1.79 L35.37,-1.45 L35.48,-1.10 L35.56,-0.75 L35.62,-0.40 L35.65,-0.05 L35.67,0.29 L35.67,0.61 L35.65,0.93 L35.61,1.22 L35.56,1.49 L35.49,1.74 L35.40,1.96 L35.31,2.15 L35.20,2.31 L35.08,2.44 L34.96,2.53 L34.83,2.58 L34.71,2.60 L34.58,2.58 L34.45,2.53 L34.33,2.44 L34.21,2.31 L34.11,2.15 L34.01,1.96 L33.92,1.74 L33.85,1.49 L33.80,1.22 L33.76,0.93 L33.74,0.61 L33.74,0.29 L33.76,-0.05 L33.80,-0.40 L33.86,-0.75 L33.94,-1.10 L34.04,-1.45 L34.16,-1.79 L34.30,-2.11 L34.46,-2.43 L34.64,-2.72 L34.83,-2.99 L35.04,-3.24 L35.27,-3.46 L35.51,-3.65 L35.75,-3.81 L36.01,-3.94 L36.27,-4.03 L36.54,-4.08 L36.81,-4.10 L37.08,-3.94 L37.36,-3.50 L37.63,-2.83 L37.91,-2.05 L38.18,-1.27 L38.46,-0.60 L38.73,-0.16 L39.01,-0.00 L61.01,0.00" fill="none" stroke="#201614" stroke-width="1.1" stroke-linejoin="round" transform="translate(602.14,111.36) rotate(-36.00)"/>
<text x="573" y="84.7" font-size="15.6" fill="#231f20" textLength="54.3" lengthAdjust="spacingAndGlyphs">E phase</text>
<text x="681.1" y="84.7" font-size="15.6" fill="#231f20" textLength="54.3" lengthAdjust="spacingAndGlyphs">A phase</text>
<text x="550.3" y="147.8" font-size="15.6" fill="#231f20" textLength="54.5" lengthAdjust="spacingAndGlyphs">D phase</text>
<text x="700.5" y="148.5" font-size="15.6" fill="#231f20" textLength="54.8" lengthAdjust="spacingAndGlyphs">B phase</text>
<text x="623.4" y="185.8" font-size="15.6" fill="#231f20" textLength="56" lengthAdjust="spacingAndGlyphs">C phase</text>
<rect x="13.7" y="578.2" width="69.6" height="22.399999999999977" rx="11.199999999999989" fill="#1a9ad7"/>
<text x="48.5" y="596.9" font-size="16.8" fill="#ffffff" font-weight="bold" text-anchor="middle" textLength="55" lengthAdjust="spacingAndGlyphs">Note 1</text>
<rect x="13.7" y="614" width="69.6" height="22.399999999999977" rx="11.199999999999989" fill="#1a9ad7"/>
<text x="48.5" y="632.7" font-size="16.8" fill="#ffffff" font-weight="bold" text-anchor="middle" textLength="56" lengthAdjust="spacingAndGlyphs">Note 2</text>
<text x="93.3" y="597.5" font-size="19.5" fill="#231f20" textLength="533.6" lengthAdjust="spacingAndGlyphs">The motor side limit sensor is the + direction limit sensor.</text>
<text x="93.3" y="632.3" font-size="19.5" fill="#231f20" textLength="487.3" lengthAdjust="spacingAndGlyphs">Compatible cable connector: DDK Ltd.  17JE-13150</text>
</svg>
</body></html>
